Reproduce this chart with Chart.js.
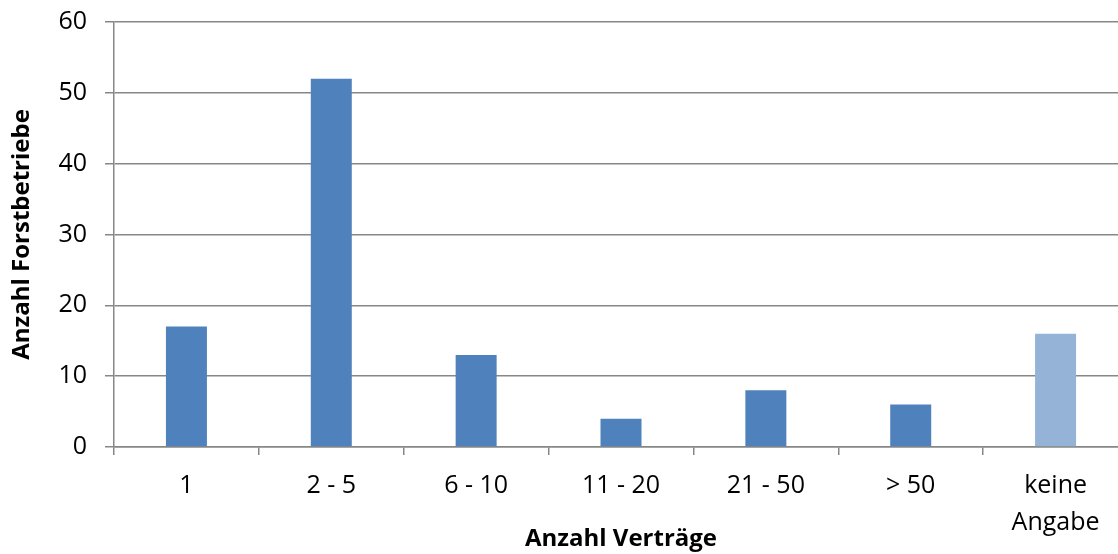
<!DOCTYPE html>
<html lang="de">
<head>
    <meta charset="UTF-8">
    <title>Anzahl Verträge</title>
    <style>
        html, body { margin: 0; padding: 0; background: #fff; overflow: hidden; }
        .box { width: 1128px; height: 554px; }
    </style>
    <script src="https://cdn.jsdelivr.net/npm/chart.js"></script>
</head>
<body>
    <div class="box">
        <canvas id="myChart" width="1128" height="554"></canvas>
    </div>

    <script type="text/javascript">
        // Daten
        var categories = ['1', '2 - 5', '6 - 10', '11 - 20', '21 - 50', '> 50', ['keine', 'Angabe']];
        var betriebe = [17, 52, 13, 4, 8, 6, 16];
        var yTicks = [0, 10, 20, 30, 40, 50, 60];

        var gridGrey = '#878787';
        var barColors = categories.map(function (c) {
            return Array.isArray(c) ? '#95B3D7' : '#4F81BD';
        });

        var ctx = document.querySelector('#myChart');

        new Chart(ctx, {
            type: 'bar',
            data: {
                labels: categories,
                datasets: [
                    {
                        label: 'Anzahl Forstbetriebe',
                        data: betriebe,
                        backgroundColor: barColors,
                        borderWidth: 0,
                        categoryPercentage: 1,
                        barPercentage: 0.283
                    }
                ]
            },
            options: {
                responsive: false,
                animation: false,
                layout: {
                    padding: { top: 22, right: 0, bottom: 0, left: 0 }
                },
                plugins: {
                    legend: { display: false },
                    tooltip: { enabled: false }
                },
                scales: {
                    x: {
                        grid: {
                            offset: true,
                            drawOnChartArea: false,
                            drawTicks: true,
                            tickLength: 8,
                            color: gridGrey,
                            lineWidth: 1.5
                        },
                        border: { color: gridGrey, width: 1.5 },
                        ticks: {
                            color: '#000',
                            font: { family: 'Open Sans', size: 25, lineHeight: 1.48 },
                            padding: 12,
                            maxRotation: 0,
                            autoSkip: false
                        },
                        title: {
                            display: true,
                            text: 'Anzahl Verträge',
                            color: '#000',
                            font: { family: 'Open Sans', size: 24, weight: 'bold' },
                            padding: { top: 0, bottom: 0 }
                        },
                        afterFit: function (axis) { axis.height = 107; }
                    },
                    y: {
                        min: 0,
                        max: 60,
                        afterBuildTicks: function (axis) {
                            axis.ticks = yTicks.map(function (v) { return { value: v }; });
                        },
                        grid: {
                            color: gridGrey,
                            lineWidth: 1.5,
                            tickLength: 9
                        },
                        border: { color: gridGrey, width: 1.5 },
                        ticks: {
                            color: '#000',
                            font: { family: 'Open Sans', size: 25 },
                            padding: 18
                        },
                        title: {
                            display: true,
                            text: 'Anzahl Forstbetriebe',
                            color: '#000',
                            font: { family: 'Open Sans', size: 24, weight: 'bold' },
                            padding: { top: 8, bottom: 0 }
                        },
                        afterFit: function (axis) {
                            axis.width = 114;
                            axis.paddingTop = 0;
                            axis.paddingBottom = 0;
                        }
                    }
                }
            }
        });
    </script>
</body>
</html>
